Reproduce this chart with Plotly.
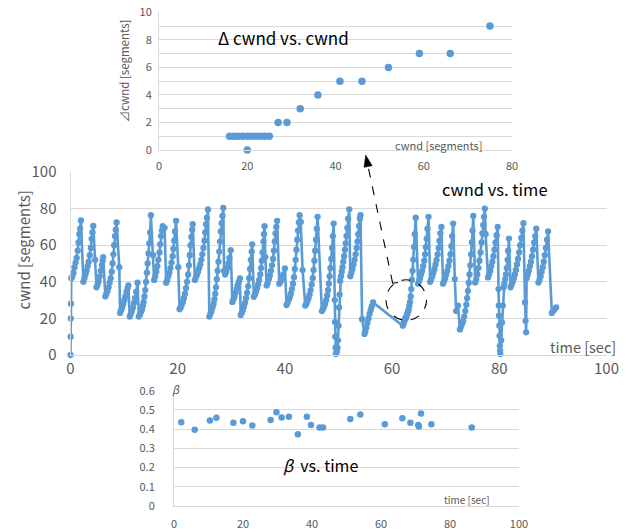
import plotly.graph_objects as go

W, H = 626, 531
BLUE = "#5B9BD5"
GRID = "#D9D9D9"
TXT = "#595959"
FONT = "Noto Sans CJK JP"

# ---------------- top chart: delta cwnd vs cwnd ----------------
cwnd_top = [16, 17, 18, 19, 20, 20, 21, 22, 23, 24, 25, 27, 29, 32, 36, 41, 46, 52, 59, 66, 75]
delta_cwnd = [1, 1, 1, 1, 1, 0, 1, 1, 1, 1, 1, 2, 2, 3, 4, 5, 5, 6, 7, 7, 9]

# ---------------- middle chart: cwnd vs time ----------------
time_s = [
    0.0, 0.03, 0.06, 0.09, 0.15,
    0.35, 0.55, 0.75, 0.95, 1.15, 1.35, 1.5, 1.65, 1.8, 1.95,
    2.4, 2.6, 2.8, 3.0, 3.2, 3.4, 3.6, 3.8, 3.95, 4.1, 4.25,
    4.6, 4.85, 5.05, 5.25, 5.45, 5.65, 5.85, 6.0, 6.1,
    6.5, 6.7, 6.9, 7.1, 7.3, 7.5, 7.7, 7.85, 8.0, 8.15, 8.3, 8.45, 8.6,
    9.1, 9.25, 9.45, 9.65, 9.85, 10.05, 10.25, 10.45, 10.65, 10.8,
    11.05, 11.25, 11.45, 11.65, 11.85, 12.05, 12.25, 12.5,
    12.75, 12.95, 13.15, 13.35, 13.5, 13.65, 13.8, 13.95, 14.1, 14.25, 14.4, 14.55, 14.7, 14.85, 15.0,
    15.4, 15.6, 15.8, 16.0, 16.2, 16.4, 16.6, 16.75, 16.9, 17.05, 17.2, 17.55,
    17.85, 18.05, 18.25, 18.45, 18.65, 18.85, 19.05, 19.2, 19.35, 19.5, 19.7,
    20.1, 20.35, 20.55, 20.75, 20.95, 21.15, 21.35, 21.55, 21.75, 21.95, 22.1, 22.25, 22.4, 22.55, 22.7, 22.8,
    23.2, 23.4, 23.6, 23.8, 24.0, 24.2, 24.4, 24.6, 24.8, 25.0, 25.15, 25.3, 25.45, 25.65,
    25.9, 26.1, 26.3, 26.5, 26.7, 26.85, 27.0, 27.15, 27.3, 27.45, 27.6, 27.75, 27.9, 28.05, 28.2, 28.35, 28.5,
    28.65, 28.85, 29.05, 29.25, 29.45, 29.65, 29.9,
    30.2, 30.4, 30.6, 30.8, 31.0, 31.2, 31.4, 31.6,
    31.75, 31.95, 32.15, 32.35, 32.55, 32.75, 32.95, 33.15, 33.35, 33.5, 33.65, 33.8, 33.9,
    34.2, 34.4, 34.6, 34.8, 35.0, 35.2, 35.4, 35.55, 35.7, 35.85, 36.0, 36.1, 36.2,
    36.35, 36.6, 36.8, 37.0, 37.2, 37.4, 37.6, 37.8, 37.95, 38.1, 38.25, 38.4, 38.55,
    38.95, 39.2, 39.45, 39.7, 40.0,
    40.3, 40.5, 40.7, 40.9, 41.1, 41.3, 41.5, 41.7, 41.85, 42.0, 42.15, 42.3, 42.45, 42.6, 42.75, 42.95,
    43.3, 43.8, 44.0, 44.2, 44.4, 44.6, 44.8, 45.0, 45.2, 45.35, 45.5, 45.65, 45.8, 45.95, 46.1,
    46.9, 47.1, 47.3, 47.5, 47.7, 47.9, 48.05, 48.2, 48.35, 48.5, 48.65, 48.8, 48.95, 49.1,
    49.3, 49.35, 49.4, 49.45, 49.5, 49.6, 49.7, 49.8, 49.9, 50.0, 50.1, 50.2, 50.3,
    50.45, 50.6, 50.75, 50.9, 51.05, 51.2, 51.35, 51.5, 51.65, 51.8, 52.0,
    52.2, 52.4, 52.6, 52.8, 53.0, 53.2, 53.4, 53.55, 53.7, 53.85, 54.0, 54.1,
    54.4, 54.85, 55.0, 55.2, 55.4, 55.6, 55.8, 56.0, 56.2, 56.45,
    62.0, 62.11, 62.22, 62.33, 62.44, 62.55, 62.66, 62.77, 62.88, 62.99, 63.1, 63.22, 63.34, 63.46, 63.58, 63.7, 63.82, 63.95, 64.08, 64.22, 64.4,
    64.85, 65.05, 65.2, 65.4, 65.6, 65.8, 66.0, 66.15, 66.3, 66.45, 66.6, 66.8,
    67.1, 67.3, 67.5, 67.7, 67.9, 68.1, 68.3, 68.5, 68.7, 68.85, 69.0, 69.2,
    69.5, 69.7, 69.9, 70.1, 70.3, 70.5, 70.7, 70.9, 71.05, 71.2, 71.4,
    71.7, 71.95, 72.3, 72.65, 72.85, 73.05, 73.25, 73.45, 73.65, 73.85, 74.0, 74.15, 74.3, 74.45, 74.6, 74.75, 74.9, 75.0, 75.15,
    75.5, 75.7, 75.9, 76.1, 76.3, 76.5, 76.7, 76.85, 77.0, 77.15, 77.3, 77.45,
    77.9, 78.1, 78.3, 78.5, 78.7, 78.9, 79.1, 79.3, 79.5, 79.7,
    79.85, 79.9, 79.95, 80.0, 80.05, 80.1, 80.15, 80.2, 80.35, 80.5, 80.65, 80.8,
    80.95, 81.1, 81.25, 81.4, 81.55, 81.65, 81.8,
    82.1, 82.3, 82.5, 82.7, 82.9, 83.1, 83.3, 83.5, 83.7, 83.9, 84.1, 84.3, 84.5,
    84.8, 84.9, 85.0, 85.1, 85.3, 85.5, 85.7, 85.9, 86.1, 86.3, 86.5, 86.7, 86.9,
    87.3, 87.5, 87.7, 87.9, 88.1, 88.3, 88.5, 88.7, 88.9, 89.1,
    89.8, 90.2, 90.6,
]
cwnd = [
    0, 10, 20, 28, 42,
    43, 45, 48, 50.5, 53, 57, 61.5, 66, 69, 73.5,
    40, 42, 44, 46, 48.5, 51, 54.5, 58.5, 63.5, 67, 70.5,
    52, 37, 38.5, 40.5, 43, 46, 49, 51.5, 53.5,
    32, 33.5, 35, 37, 39.5, 42, 45.5, 50, 55, 60, 65, 68.5, 72.4,
    48, 23, 24.5, 26, 28, 30, 32, 34.5, 36.5, 38,
    21, 22.5, 24, 26, 28.5, 31, 34.5, 39.5,
    21, 22, 23.5, 25, 27, 29, 32, 35.5, 40, 45, 50, 55.5, 61, 67, 76.4,
    54.5, 41, 43, 45.5, 48.5, 52, 56, 60.5, 65, 68, 70.4, 69.5,
    39.5, 41, 43, 45, 47.5, 50.5, 54, 58, 62.5, 67.5, 73.3,
    48, 25, 26, 27.5, 29, 31, 33.5, 36.5, 40, 44, 49, 54.5, 60, 64.5, 68.5, 71.5,
    41, 42.5, 44, 45.5, 47.5, 49.5, 52, 55, 58.5, 62.5, 67, 71.5, 75, 79.5,
    21, 22.5, 24, 26, 28, 30.5, 33.5, 37, 41.5, 46, 51, 56.5, 62, 67.5, 72, 76, 80.4,
    46, 44, 45.5, 47.5, 50, 53, 57.3,
    29, 30.5, 32, 34, 36, 38, 40, 41.8,
    21.8, 23, 24.5, 26.5, 28.5, 31, 34, 37.5, 42, 47, 52, 56.5, 60.5,
    31.8, 33, 34.5, 36.5, 38.5, 41, 44, 47.5, 51.5, 56, 62, 66, 70.4,
    53.5, 38, 39.5, 41.5, 43.5, 46, 49, 52.5, 57, 62, 66.5, 70, 73.3,
    39, 40, 42, 44, 47.3,
    27.3, 28.5, 30, 31.5, 33.5, 36, 39, 42.5, 47, 52, 57.5, 63, 68, 72.5, 76.4, 72.7,
    46.4, 27, 28, 29.5, 31, 33, 35.5, 38.5, 42, 46.5, 51.5, 57, 63, 69, 75.5,
    24, 25, 26.5, 28, 30, 32.5, 35.5, 39, 43, 47.5, 52.5, 58.5, 65, 71.8,
    30, 18, 10, 4, 0.5, 1, 2, 4, 8, 16, 26, 33, 40.5,
    43, 45.5, 48, 51, 54, 57.5, 61, 65, 69.5, 74.5, 79.6,
    43, 45, 47, 49.5, 52, 55, 58.5, 62, 66, 70.5, 74.5, 76.4,
    19.6, 11.5, 13, 15, 17.5, 20, 22.5, 24.5, 26.5, 28.7,
    16, 17, 18, 19, 20, 20, 21, 22, 23, 24, 25, 27, 29, 32, 36, 41, 46, 52, 59, 66, 75,
    39, 40.5, 42, 44, 46, 48.5, 51.5, 55, 59, 63.5, 69, 75.5,
    40, 41.5, 43, 45, 47, 49.5, 52, 55, 58.5, 62.5, 66.5, 70,
    39, 40.5, 42, 44, 46, 48.5, 51.5, 55, 59.5, 65, 71.8,
    41.5, 24, 27, 14, 15.5, 17, 18.5, 21, 24, 27.5, 31, 35, 39.5, 44, 49, 55, 61.5, 68, 76,
    39.6, 41.5, 44, 47.5, 51.5, 56, 61.5, 66.5, 71, 75.5, 80, 66,
    42.4, 44, 46, 48.5, 51, 54, 57.5, 61.5, 65.5, 70,
    36, 27, 21.5, 16, 10.5, 5, 2.4, 0.5, 8, 17.8, 27, 37,
    39, 41.5, 44, 47.5, 52, 57, 63.6,
    37, 38.5, 40, 42, 44, 46.5, 49.5, 52.5, 56, 60, 64, 68, 72,
    28.7, 18.7, 12.4, 42, 44, 46, 48.5, 51, 54, 57.5, 61.5, 65, 69,
    39.6, 41, 43, 45.5, 48, 51, 54.5, 58.5, 63, 67.5,
    23, 24.5, 26,
]
assert len(time_s) == len(cwnd), (len(time_s), len(cwnd))

# ---------------- bottom chart: beta vs time ----------------
beta_time = [2.1, 6.0, 10.4, 12.3, 17.2, 20.0, 22.7, 28.0, 29.7, 31.2, 33.3, 35.9, 38.5,
             39.7, 42.2, 43.2, 51.1, 54.0, 61.1, 66.2, 68.5, 70.8, 71.0, 71.6, 74.6, 86.3]
beta = [0.436, 0.397, 0.445, 0.459, 0.433, 0.441, 0.419, 0.448, 0.488, 0.460, 0.464, 0.374, 0.464,
        0.422, 0.409, 0.409, 0.453, 0.476, 0.426, 0.457, 0.433, 0.422, 0.414, 0.481, 0.426, 0.409]
beta_ticks = [0, 0.1, 0.2, 0.3, 0.4, 0.5, 0.6]
beta_ticktext = ["0", "0.1", "0.2", "0.3", "0.4", "0.5", "0.6"]


def px(x):
    return x / W


def py(y):
    return 1 - y / H


fig = go.Figure()
fig.add_trace(go.Scatter(x=cwnd_top, y=delta_cwnd, mode="markers",
                         marker=dict(color=BLUE, size=7.5, line=dict(width=0)),
                         xaxis="x", yaxis="y", cliponaxis=False, showlegend=False))
fig.add_trace(go.Scatter(x=time_s, y=cwnd, mode="lines+markers",
                         line=dict(color=BLUE, width=2.6),
                         marker=dict(color=BLUE, size=6.3, line=dict(width=0)),
                         xaxis="x2", yaxis="y2", cliponaxis=False, showlegend=False))
fig.add_trace(go.Scatter(x=beta_time, y=beta, mode="markers",
                         marker=dict(color=BLUE, size=6.5, line=dict(width=0)),
                         xaxis="x3", yaxis="y3", cliponaxis=False, showlegend=False))


def xax(dom, rng, dtick, fs, anchor, ticklen):
    return dict(domain=dom, range=rng, dtick=dtick, showgrid=False, zeroline=False,
                showline=True, linecolor=GRID, linewidth=1, ticks="outside",
                ticklen=ticklen, tickcolor="rgba(0,0,0,0)", automargin=False,
                tickfont=dict(size=fs, color=TXT, family=FONT), anchor=anchor, fixedrange=True)


def yax(dom, rng, dtick, fs, anchor, ticklen, minor=None):
    d = dict(domain=dom, range=rng, dtick=dtick, showgrid=True, gridcolor=GRID, gridwidth=1,
             zeroline=False, showline=True, linecolor=GRID, linewidth=1, ticks="outside",
             ticklen=ticklen, tickcolor="rgba(0,0,0,0)", automargin=False,
             tickfont=dict(size=fs, color=TXT, family=FONT), anchor=anchor, fixedrange=True)
    if minor:
        d["minor"] = minor
    return d


y3 = yax([py(506), py(390.7)], [0, 0.6], None, 11, "x3", 16)
y3.pop("dtick")
y3.update(tickmode="array", tickvals=beta_ticks, ticktext=beta_ticktext)

fig.update_layout(
    width=W, height=H, autosize=False,
    margin=dict(l=0, r=0, t=0, b=0, pad=0, autoexpand=False),
    paper_bgcolor="white", plot_bgcolor="white",
    font=dict(family=FONT, color=TXT),
    xaxis=xax([px(159), px(512)], [0, 80], 20, 11, "y", 6),
    yaxis=yax([py(150), py(12.3)], [0, 10], 2, 11, "x", 4,
              minor=dict(dtick=1, showgrid=True, gridcolor=GRID, gridwidth=1)),
    xaxis2=xax([px(70.5), px(606.5)], [0, 100], 20, 15, "y2", 0),
    yaxis2=yax([py(355), py(172)], [0, 100], 20, 15, "x2", 10),
    xaxis3=xax([px(174), px(519)], [0, 100], 20, 11, "y3", 8),
    yaxis3=y3,
)

annotations = [
    # top chart
    dict(text="Δ cwnd vs. cwnd", x=px(283.5), y=py(37), font=dict(size=17, color="black")),
    dict(text="⊿cwnd [segments]", x=px(124), y=py(71.5), textangle=-90, font=dict(size=11.5, color=TXT)),
    dict(text="cwnd [segments]", x=px(438), y=py(144.5), font=dict(size=11, color=TXT)),
    # middle chart
    dict(text="cwnd vs. time", x=px(495), y=py(189), font=dict(size=16.5, color="black")),
    dict(text="cwnd [segments]", x=px(22.5), y=py(250), textangle=-90, font=dict(size=15, color=TXT)),
    dict(text="time [sec]", x=px(583), y=py(346), font=dict(size=14.5, color=TXT)),
    # bottom chart
    dict(text="<i>β</i>  vs. time", x=px(320), y=py(465), font=dict(size=16, color="black")),
    dict(text="<i>β</i>", x=px(176), y=py(388.5), font=dict(size=11, color=TXT), borderpad=0),
    dict(text="time [sec]", x=px(466.5), y=py(500), font=dict(size=10, color=TXT)),
]
for a in annotations:
    a.update(xref="paper", yref="paper", showarrow=False, xanchor="center", yanchor="middle")
    a["font"]["family"] = FONT
fig.update_layout(annotations=annotations)

# dashed circle and dashed arrow (overlay drawing, positioned in pixels)
tip = (365.7, 155.0)
tail = (392.7, 283.3)
head_base_l = (364.0, 167.3)
head_base_r = (372.2, 165.7)
shapes = [
    dict(type="circle", xref="paper", yref="paper",
         x0=px(386), x1=px(426.5), y0=py(320.3), y1=py(279.8),
         line=dict(color="black", width=1.1, dash="dash")),
    dict(type="line", xref="paper", yref="paper",
         x0=px(tail[0]), y0=py(tail[1]), x1=px(368.1), y1=py(166.5),
         line=dict(color="black", width=1.1, dash="dash")),
    dict(type="line", xref="paper", yref="paper",
         x0=px(tail[0]), y0=py(tail[1]), x1=px(398.0), y1=py(282.5),
         line=dict(color="black", width=1.1)),
    dict(type="path", xref="paper", yref="paper",
         path=(f"M {px(tip[0])},{py(tip[1])} L {px(head_base_l[0])},{py(head_base_l[1])} "
               f"L {px(head_base_r[0])},{py(head_base_r[1])} Z"),
         fillcolor="black", line=dict(color="black", width=0.5)),
]
fig.update_layout(shapes=shapes)

fig.write_html("out.html", config={"displayModeBar": False},
               post_script="document.body.style.margin='0';document.body.style.overflow='hidden';")
